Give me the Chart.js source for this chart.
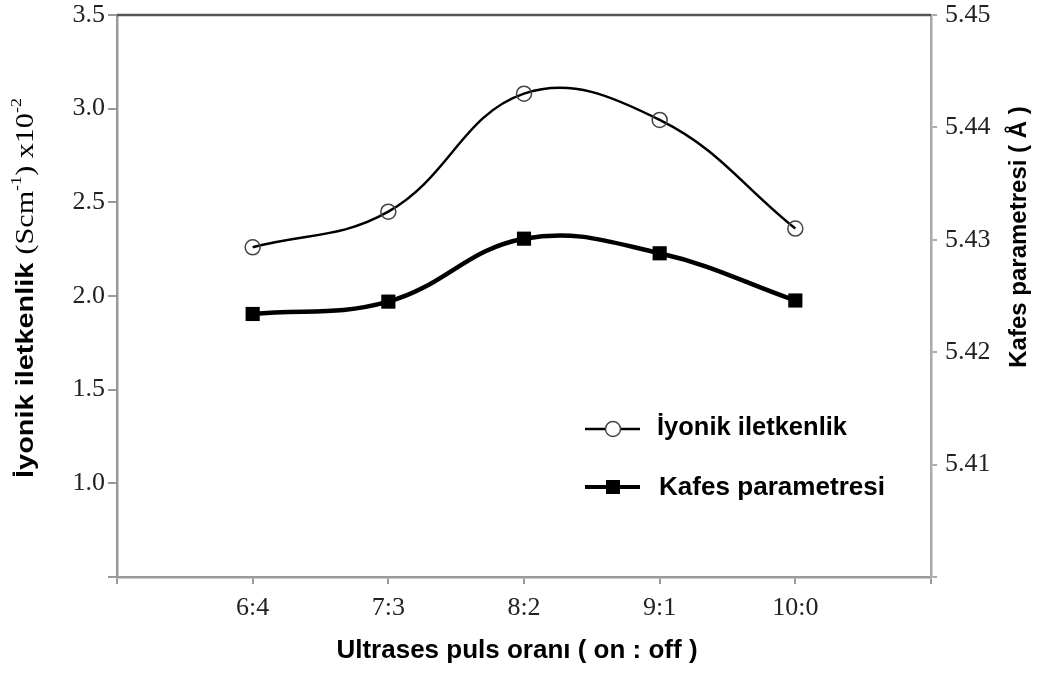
<!DOCTYPE html>
<html>
<head>
<meta charset="utf-8">
<script src="https://cdn.jsdelivr.net/npm/chart.js@4/dist/chart.umd.min.js"></script>
<style>
  html, body { margin: 0; padding: 0; background: #fff; }
  #wrap { width: 1038px; height: 675px; position: relative; }
</style>
</head>
<body>
<div id="wrap"><canvas id="chart"></canvas></div>
<script>
// pulse ratios (on : off) on the x axis
const ratioLabels = ['6:4', '7:3', '8:2', '9:1', '10:0'];
// ionic conductivity, Scm^-1 x10^-2 (left axis)
const ionicConductivity = [2.26, 2.45, 3.08, 2.94, 2.36];
// lattice parameter, Angstrom (right axis)
const latticeParameter = [5.4234, 5.4245, 5.4301, 5.4288, 5.4246];

const leftMin = 0.5, leftMax = 3.5, leftStep = 0.5;
const rightMin = 5.40, rightMax = 5.45, rightStep = 0.01;

const serif = '"Liberation Serif", "Times New Roman", serif';
const sans = '"Liberation Sans", Arial, sans-serif';

function toPoints(values) {
    return values.map((v, i) => ({ x: i + 1, y: v }));
}

// draws a row of text pieces (used for superscripts); returns total width
function drawRuns(ctx, runs, x, y, measureOnly) {
    let cx = x;
    runs.forEach(r => {
        ctx.font = r.font;
        if (!measureOnly) ctx.fillText(r.text, cx, y + (r.dy || 0));
        cx += ctx.measureText(r.text).width;
    });
    return cx - x;
}

const overlayPlugin = {
    id: 'overlay',
    afterDraw(chart) {
        const ctx = chart.ctx;
        const area = chart.chartArea;
        ctx.save();

        // top frame line
        ctx.strokeStyle = '#555';
        ctx.lineWidth = 2.5;
        ctx.beginPath();
        ctx.moveTo(area.left, area.top);
        ctx.lineTo(area.right, area.top);
        ctx.stroke();

        ctx.fillStyle = '#000';
        ctx.textBaseline = 'middle';

        // x axis title
        ctx.font = 'bold 26px ' + sans;
        ctx.textAlign = 'center';
        ctx.fillText('Ultrases puls oranı ( on : off )', 517, 651);

        // left axis title with superscripts, stretched along its length
        ctx.textAlign = 'left';
        const leftRuns = [
            { text: 'İyonik iletkenlik ', font: 'bold 24px ' + sans },
            { text: '(Scm', font: '25px ' + serif },
            { text: '-1', font: '15px ' + serif, dy: -9 },
            { text: ') x10', font: '25px ' + serif },
            { text: '-2', font: '15px ' + serif, dy: -9 }
        ];
        const lw = drawRuns(ctx, leftRuns, 0, 0, true);
        ctx.save();
        ctx.translate(26, 288);
        ctx.rotate(-Math.PI / 2);
        ctx.scale(380 / lw, 1);
        drawRuns(ctx, leftRuns, -lw / 2, 0, false);
        ctx.restore();

        // right axis title
        ctx.save();
        ctx.translate(1019, 237);
        ctx.rotate(-Math.PI / 2);
        ctx.textAlign = 'center';
        ctx.font = 'bold 24px ' + sans;
        ctx.fillText('Kafes parametresi ( Å )', 0, 0);
        ctx.restore();

        // legend
        ctx.strokeStyle = '#000';
        ctx.lineWidth = 2.5;
        ctx.beginPath();
        ctx.moveTo(585, 429);
        ctx.lineTo(640, 429);
        ctx.stroke();
        ctx.fillStyle = '#fff';
        ctx.strokeStyle = '#444';
        ctx.lineWidth = 1.5;
        ctx.beginPath();
        ctx.arc(613, 429, 7.5, 0, Math.PI * 2);
        ctx.fill();
        ctx.stroke();

        ctx.strokeStyle = '#000';
        ctx.lineWidth = 4;
        ctx.beginPath();
        ctx.moveTo(585, 487);
        ctx.lineTo(640, 487);
        ctx.stroke();
        ctx.fillStyle = '#000';
        ctx.fillRect(606, 480, 14, 14);

        ctx.font = 'bold 25px ' + sans;
        ctx.textAlign = 'left';
        ctx.save();
        ctx.translate(657, 428);
        ctx.scale(190 / ctx.measureText('İyonik iletkenlik').width, 1.05);
        ctx.fillText('İyonik iletkenlik', 0, 0);
        ctx.restore();
        ctx.save();
        ctx.translate(659, 488);
        ctx.scale(226 / ctx.measureText('Kafes parametresi').width, 1.05);
        ctx.fillText('Kafes parametresi', 0, 0);
        ctx.restore();

        ctx.restore();
    }
};

const ctx = document.getElementById('chart').getContext('2d');

function fitY(width) {
    return s => {
        s.width = width;
        s.paddingTop = 0;
        s.paddingBottom = 0;
    };
}

new Chart(ctx, {
    type: 'line',
    data: {
        datasets: [
            {
                label: 'İyonik iletkenlik',
                data: toPoints(ionicConductivity),
                yAxisID: 'yLeft',
                borderColor: '#000',
                borderWidth: 2.5,
                tension: 0.4,
                pointStyle: 'circle',
                pointRadius: 7.5,
                pointBorderWidth: 1.5,
                pointBorderColor: '#444',
                pointBackgroundColor: 'rgba(255,255,255,0)'
            },
            {
                label: 'Kafes parametresi',
                data: toPoints(latticeParameter),
                yAxisID: 'yRight',
                borderColor: '#000',
                borderWidth: 4.5,
                tension: 0.4,
                pointStyle: 'rect',
                pointRadius: 10,
                pointBorderWidth: 0,
                pointBackgroundColor: '#000'
            }
        ]
    },
    options: {
        responsive: true,
        maintainAspectRatio: false,
        animation: false,
        layout: { padding: { top: 15, left: 0, right: 0, bottom: 0 } },
        plugins: {
            legend: { display: false },
            tooltip: { enabled: false }
        },
        scales: {
            x: {
                type: 'linear',
                min: 0,
                max: ratioLabels.length + 1,
                afterFit: s => { s.height = 98; s.paddingLeft = 0; s.paddingRight = 0; },
                border: { color: '#999', width: 2.5 },
                grid: { drawOnChartArea: false, drawTicks: true, tickLength: 7, color: '#999', lineWidth: 2 },
                ticks: {
                    stepSize: 1,
                    padding: 9,
                    color: '#222',
                    font: { family: serif, size: 26 },
                    callback: v => ratioLabels[v - 1] || ''
                }
            },
            yLeft: {
                type: 'linear',
                position: 'left',
                min: leftMin,
                max: leftMax,
                afterFit: fitY(117),
                border: { color: '#999', width: 2.5 },
                grid: { drawOnChartArea: false, drawTicks: true, tickLength: 9, color: '#999', lineWidth: 2 },
                ticks: {
                    stepSize: leftStep,
                    padding: 3,
                    color: '#222',
                    font: { family: serif, size: 26 },
                    callback: v => (Math.abs(v - leftMin) < 1e-6 ? '' : v.toFixed(1))
                }
            },
            yRight: {
                type: 'linear',
                position: 'right',
                min: rightMin,
                max: rightMax,
                afterFit: fitY(107),
                border: { color: '#aaa', width: 2.5 },
                grid: { drawOnChartArea: false, drawTicks: true, tickLength: 6, color: '#aaa', lineWidth: 2 },
                ticks: {
                    stepSize: rightStep,
                    padding: 8,
                    color: '#222',
                    font: { family: serif, size: 26 },
                    callback: v => (Math.abs(v - rightMin) < 1e-6 ? '' : v.toFixed(2))
                }
            }
        }
    },
    plugins: [overlayPlugin]
});
</script>
</body>
</html>
